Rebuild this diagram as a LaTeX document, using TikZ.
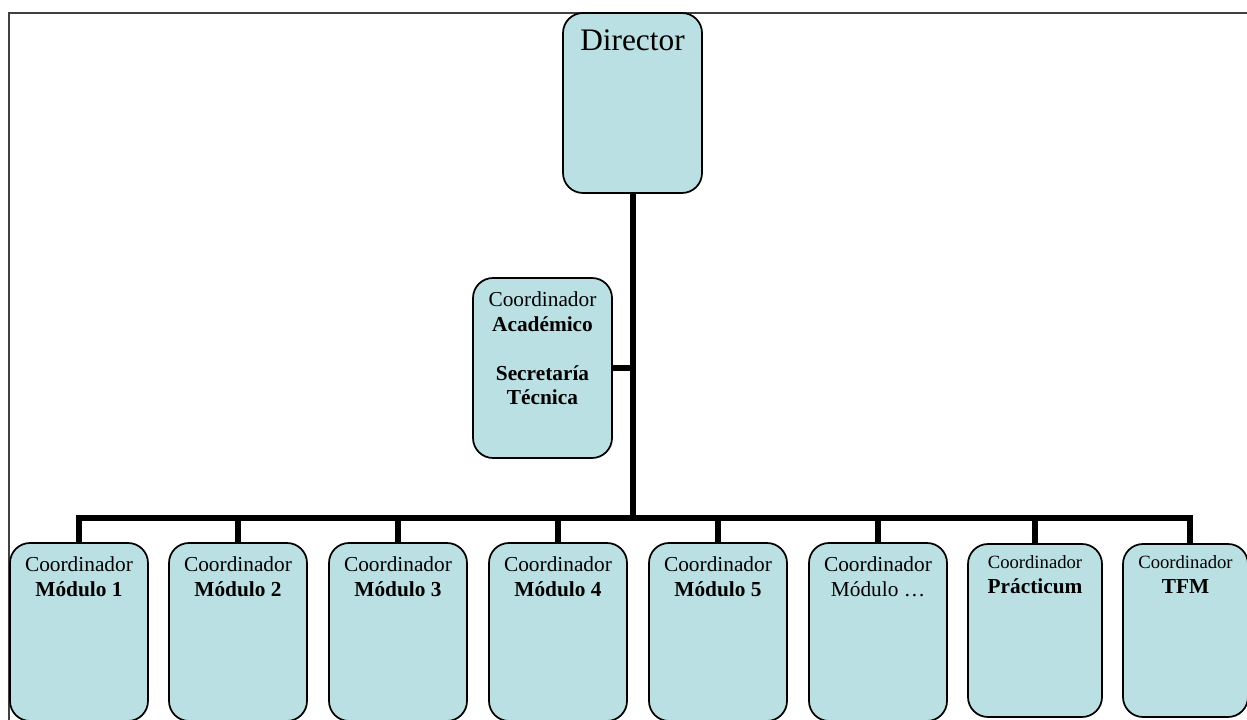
\documentclass[tikz,border=0pt]{standalone}
\usepackage{fontspec}
\setmainfont{Liberation Serif}
\definecolor{boxblue}{RGB}{187,224,227}
\definecolor{framegray}{RGB}{64,64,64}

\begin{document}
\begin{tikzpicture}[x=0.75pt,y=-0.75pt]

\tikzset{unit/.style = {shape=rectangle,rounded corners=15pt,draw,line width=1.3pt,fill=boxblue,inner sep=0pt,minimum width=103.5pt,minimum height=133.5pt}}
\tikzset{unit2/.style = {unit,minimum width=100.5pt,minimum height=129.75pt}}
\tikzset{txt/.style = {anchor=north,inner sep=0pt,align=center,font=\fontsize{16}{18.75}\selectfont}}
\tikzset{txt2/.style = {txt,font=\fontsize{14}{18.75}\selectfont}}
\tikzset{link/.style = {line width=4.5pt,line join=miter}}

\useasboundingbox (0,0) rectangle (1247,720);
% frame
\draw[framegray,line width=1.6pt] (9,720) -- (9,13) -- (1247,13);
% vertices
\node[unit,minimum width=104.25pt,minimum height=135pt,label={[txt,font=\fontsize{23.5}{28}\selectfont,yshift=-13.2pt]north:Director}] (Director) at (632.5,103) {};
\node[unit,minimum width=104.25pt,minimum height=135pt,label={[txt,font=\fontsize{16}{18.4}\selectfont,yshift=-10.8pt]north:{Coordinador\\\textbf{Académico}\\[18.4pt]\textbf{Secretaría}\\\textbf{Técnica}}}] (Academico) at (542.5,368) {};
\node[unit,label={[txt,yshift=-10.8pt]north:{Coordinador\\\textbf{Módulo 1}}}] (Modulo1) at (79,632) {};
\node[unit,label={[txt,yshift=-10.8pt]north:{Coordinador\\\textbf{Módulo 2}}}] (Modulo2) at (238,632) {};
\node[unit,label={[txt,yshift=-10.8pt]north:{Coordinador\\\textbf{Módulo 3}}}] (Modulo3) at (398,632) {};
\node[unit,label={[txt,yshift=-10.8pt]north:{Coordinador\\\textbf{Módulo 4}}}] (Modulo4) at (558,632) {};
\node[unit,label={[txt,yshift=-10.8pt]north:{Coordinador\\\textbf{Módulo 5}}}] (Modulo5) at (718,632) {};
\node[unit,label={[txt,yshift=-10.8pt]north:{Coordinador\\Módulo …}}] (Modulo6) at (878,632) {};
\node[unit2,label={[txt2,yshift=-9.2pt]north:{Coordinador\\{\fontsize{16}{18.75}\selectfont\bfseries Prácticum}}}] (Practicum) at (1035,630.5) {};
\node[unit2,minimum width=93.75pt,label={[txt2,yshift=-9.2pt]north:{Coordinador\\{\fontsize{16}{18.75}\selectfont\bfseries TFM}}}] (TFM) at (1185.5,630.5) {};
\coordinate (Bus) at (632.5,518);
%edges
\draw[link] (Director.south) -- (Bus);
\draw[link] (Academico.east) -- (Academico.east -| Director.south);
\draw[link] (Modulo1.north) |- (Bus) -| ([xshift=3.4pt]TFM.north);
\draw[link] (Modulo2.north) -- (Modulo2.north |- Bus);
\draw[link] (Modulo3.north) -- (Modulo3.north |- Bus);
\draw[link] (Modulo4.north) -- (Modulo4.north |- Bus);
\draw[link] (Modulo5.north) -- (Modulo5.north |- Bus);
\draw[link] (Modulo6.north) -- (Modulo6.north |- Bus);
\draw[link] (Practicum.north) -- (Practicum.north |- Bus);
\end{tikzpicture}
\end{document}
